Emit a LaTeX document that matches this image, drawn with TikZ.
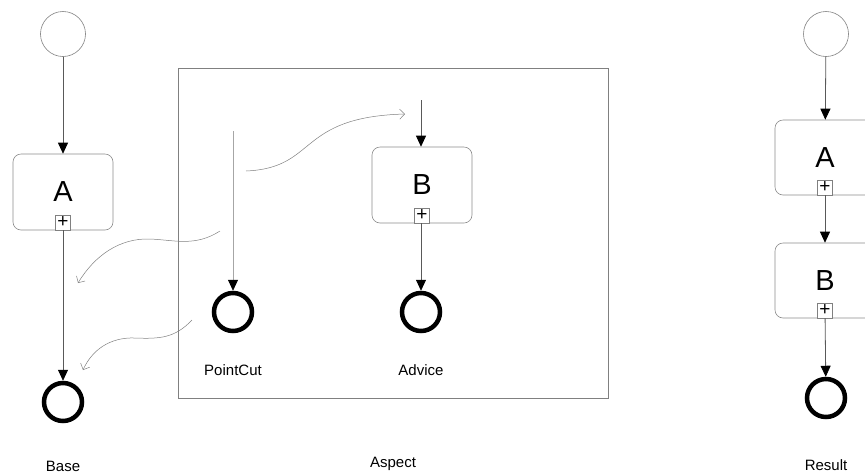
\documentclass[tikz,border=0pt]{standalone}
\usepackage{fontspec}
\setmainfont{Liberation Sans}
\usetikzlibrary{arrows.meta}
\tikzset{
  startev/.style={circle, draw=gray, line width=0.6pt, minimum size=45pt, inner sep=0pt},
  endev/.style={circle, draw=black, line width=4.5pt, minimum size=38pt, inner sep=0pt},
  task/.style={rectangle, rounded corners=8pt, draw=gray!90, line width=0.6pt,
    minimum width=100pt, minimum height=76pt, inner sep=0pt,
    font=\fontsize{29}{29}\selectfont},
  plusbox/.style={rectangle, draw=gray, fill=white, line width=0.6pt,
    minimum size=15pt, inner sep=0pt, anchor=south,
    font=\fontsize{19}{19}\selectfont},
  flow/.style={draw=black!65, line width=0.8pt,
    -{Triangle[length=11pt,width=10pt,color=black]}},
  weave/.style={draw=gray, line width=0.5pt, -{Straight Barb[length=5pt,width=10pt]}},
  lbl/.style={font=\fontsize{15}{15}\selectfont}
}

\begin{document}
\begin{tikzpicture}[x=1pt, y=-1pt]
\path[use as bounding box, clip] (0,0) rectangle (865,475);

% --- BASE ---
\node[startev] (baseStart) at (63,34) {};
\node[task] (baseA) at (63,192) {A};
\node[plusbox] (basePlus) at (baseA.south) {+};
\node[endev] (baseEnd) at (63,402) {};
\node[lbl] (baseLbl) at (63,466) {Base};
\draw[flow] (baseStart) -- (baseA);
\draw[flow] (basePlus) -- (baseEnd);

% --- ASPECT ---
\node[draw=gray, line width=0.6pt, minimum width=430pt, minimum height=330pt] (aspect) at (393,233) {};
\node[lbl] (aspectLbl) at (393,464) {Aspect};
% pointcut
\coordinate (pcTop) at (233,131);
\node[endev] (pcEnd) at (233,312) {};
\node[lbl] (pcLbl) at (233,370) {PointCut};
\draw[flow, draw=gray!70] (pcTop) -- (pcEnd);
% advice
\coordinate (advTop) at (421,100);
\node[task] (advB) at (422,185) {B};
\node[plusbox] (advPlus) at (advB.south) {+};
\node[endev] (advEnd) at (421,312) {};
\node[lbl] (advLbl) at (421,370) {Advice};
\draw[flow] (advTop) -- (advB.north -| advTop);
\draw[flow] (advPlus.south -| advEnd) -- (advEnd);

% weaving curves
\coordinate (w1a) at (246,171);
\coordinate (w1b) at (405,114);
\draw[weave] (w1a) .. controls (318,168) and (296,117) .. (w1b);
\coordinate (w2a) at (220,231);
\coordinate (w2b) at (78,283);
\draw[weave] (w2a) .. controls (195,247) and (175,240) .. (150,239)
  .. controls (120,238) and (95,255) .. (w2b);
\coordinate (w3a) at (192,320);
\coordinate (w3b) at (83,370);
\draw[weave] (w3a) .. controls (175,338) and (160,339) .. (135,338)
  .. controls (110,337) and (92,350) .. (w3b);

% --- RESULT ---
\node[startev] (resStart) at (826,34) {};
\node[task, minimum height=75pt] (resA) at (825,157.5) {A};
\node[plusbox] (resPlusA) at (resA.south) {+};
\node[task, minimum height=75pt] (resB) at (825,280.5) {B};
\node[plusbox] (resPlusB) at (resB.south) {+};
\node[endev] (resEnd) at (826,398) {};
\node[lbl] (resLbl) at (826,465) {Result};
\draw[flow] (resStart) -- (resA);
\draw[flow] (resPlusA) -- (resB);
\draw[flow] (resPlusB) -- (resEnd);

\end{tikzpicture}
\end{document}
